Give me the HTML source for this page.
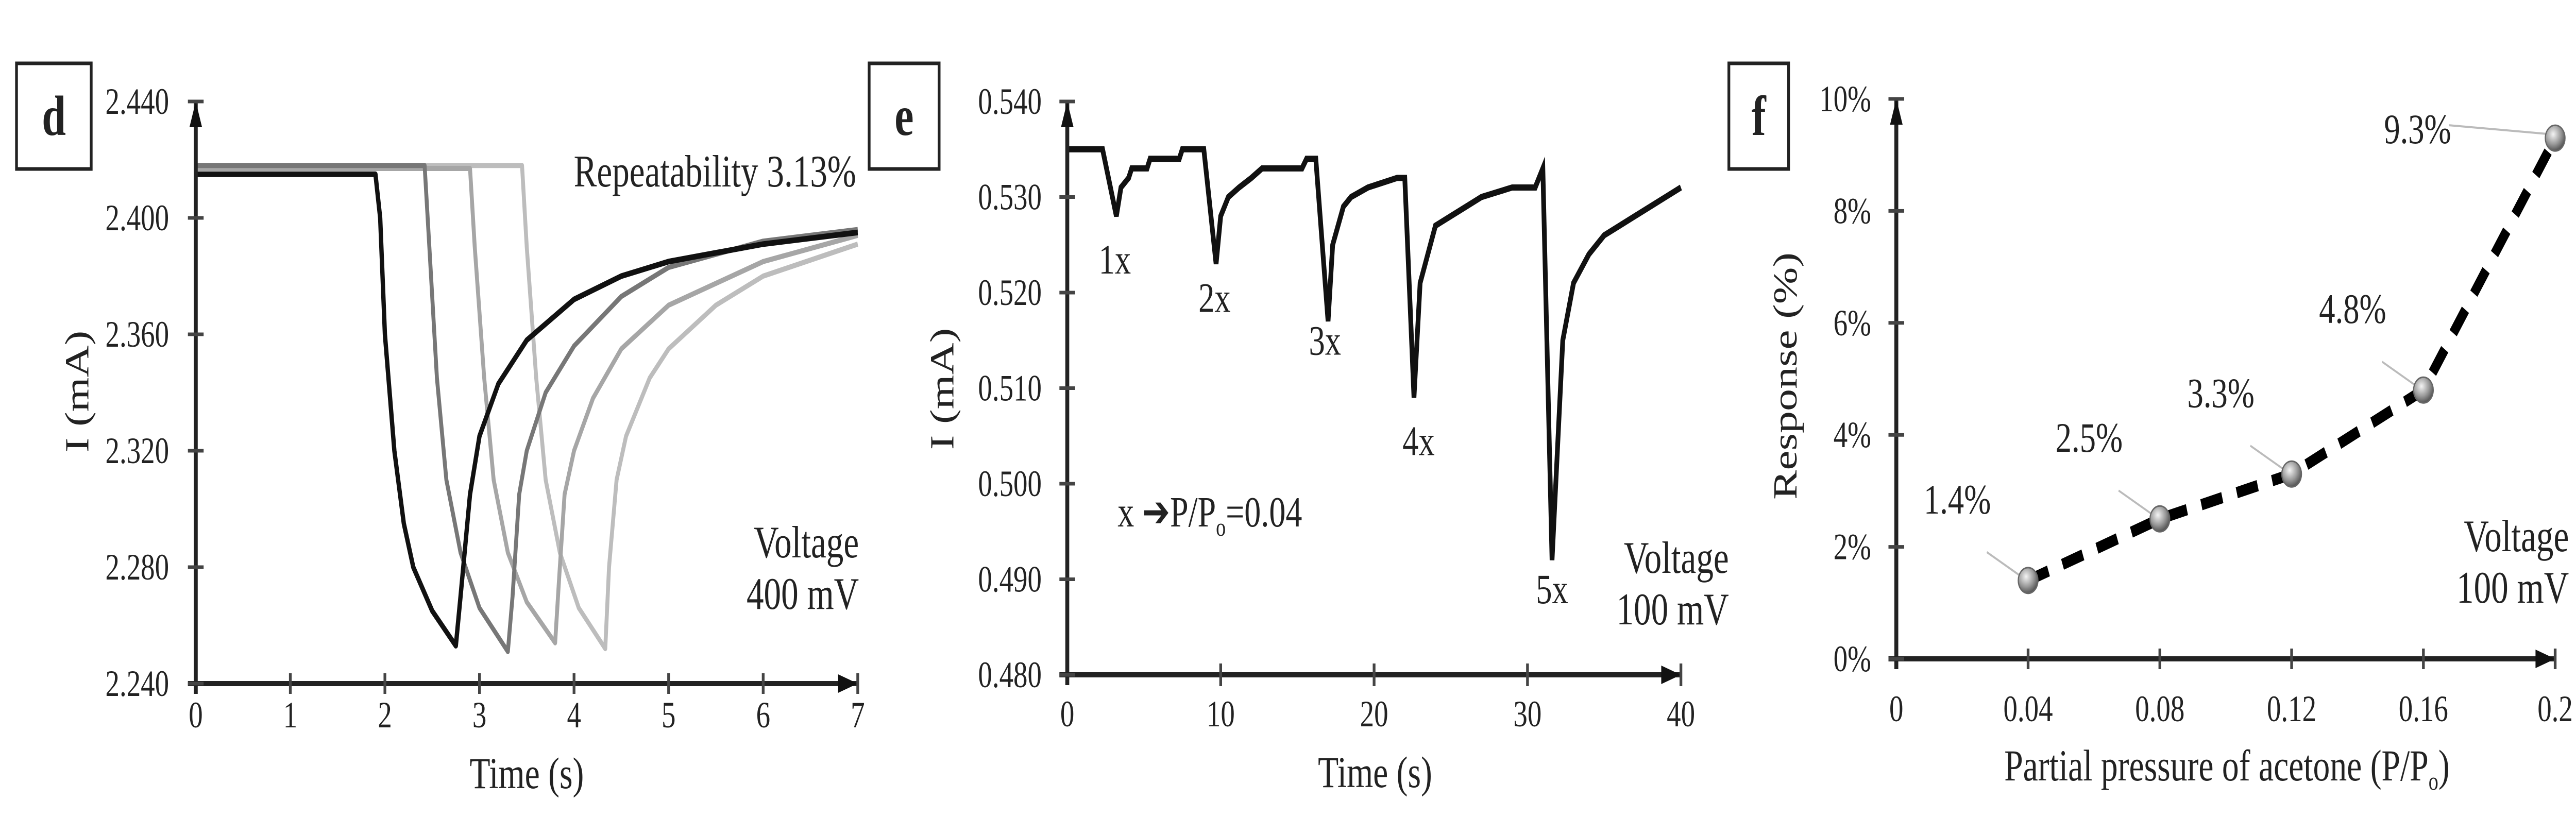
<!DOCTYPE html>
<html><head><meta charset="utf-8"><style>
html,body{margin:0;padding:0;background:#fff;width:100%;height:100%;overflow:hidden;}
svg{display:block;width:100vw;height:100vh;}
text{font-family:"Liberation Serif",serif;fill:#222;}
</style></head><body>
<svg id="fig" viewBox="0 0 6553 1586" preserveAspectRatio="none" xmlns="http://www.w3.org/2000/svg">
<defs>
<radialGradient id="ball" cx="40%" cy="35%" r="65%">
<stop offset="0" stop-color="#f4f4f4"/><stop offset="0.6" stop-color="#9a9a9a"/><stop offset="1" stop-color="#555"/>
</radialGradient>
</defs>
<g id="pd"></g>
<g id="pe"></g>
<g id="pf"></g>
</svg>
<script>
// ---------- Panel d data ----------
const dXTicks = [0,1,2,3,4,5,6,7];
const dYTicks = [2.240,2.280,2.320,2.360,2.400,2.440];
const dColors = ["#111111","#777777","#a6a6a6","#bdbdbd"];
const dT1 = [0,1.9,1.95,2.0,2.1,2.2,2.3,2.5,2.75,2.8,2.9,3.0,3.2,3.5,4.0,4.5,5.0,6.0,7.0];
const dV1 = [2.415,2.415,2.40,2.36,2.32,2.295,2.28,2.265,2.253,2.27,2.305,2.325,2.343,2.358,2.372,2.380,2.385,2.391,2.395];
const dT2 = [0,2.42,2.47,2.55,2.65,2.8,3.0,3.3,3.35,3.42,3.5,3.7,4.0,4.5,5.0,6.0,7.0];
const dV2 = [2.418,2.418,2.39,2.345,2.31,2.285,2.266,2.251,2.27,2.305,2.320,2.340,2.356,2.373,2.383,2.392,2.396];
const dT3 = [0,2.9,2.95,3.05,3.15,3.3,3.5,3.8,3.84,3.9,4.0,4.2,4.5,5.0,6.0,7.0];
const dV3 = [2.417,2.417,2.39,2.345,2.31,2.285,2.268,2.254,2.275,2.305,2.320,2.338,2.355,2.370,2.385,2.394];
const dT4 = [0,3.45,3.5,3.6,3.7,3.85,4.05,4.33,4.37,4.45,4.55,4.8,5.0,5.5,6.0,7.0];
const dV4 = [2.418,2.418,2.39,2.345,2.31,2.285,2.266,2.252,2.28,2.31,2.325,2.345,2.355,2.370,2.380,2.391];
// ---------- Panel e data ----------
const eXTicks = [0,10,20,30,40];
const eYTicks = [0.480,0.490,0.500,0.510,0.520,0.530,0.540];
const eT = [0,2.3,3.2,3.5,4.0,4.2,5.2,5.4,7.3,7.5,8.9,9.7,10.0,10.5,11.2,12.0,12.7,15.3,15.6,16.2,17.0,17.3,18.0,18.5,19.6,21.5,22.0,22.6,23.0,24.0,25.0,26.0,27.0,29.0,30.5,31.0,31.6,32.3,33.0,34.0,35.0,36.0,37.0,38.0,39.0,40.0];
const eV = [0.535,0.535,0.528,0.531,0.532,0.533,0.533,0.534,0.534,0.535,0.535,0.523,0.528,0.530,0.531,0.532,0.533,0.533,0.534,0.534,0.517,0.525,0.529,0.530,0.531,0.532,0.532,0.509,0.521,0.527,0.528,0.529,0.530,0.531,0.531,0.533,0.492,0.515,0.521,0.524,0.526,0.527,0.528,0.529,0.530,0.531];
const ePeakLabels = ["1x","2x","3x","4x","5x"];
const ePeakT = [3.1,9.6,16.8,22.9,31.6];
const ePeakV = [0.5235,0.5195,0.5150,0.5045,0.4890];
// ---------- Panel f data ----------
const fXTicks = [0,0.04,0.08,0.12,0.16,0.2];
const fXTickLabels = ["0","0.04","0.08","0.12","0.16","0.2"];
const fYTicks = [0,2,4,6,8,10];
const fX = [0.04,0.08,0.12,0.16,0.2];
const fY = [1.4,2.5,3.3,4.8,9.3];
const fLabels = ["1.4%","2.5%","3.3%","4.8%","9.3%"];

const NS="http://www.w3.org/2000/svg";
function mk(parent, tag, attrs, txt){
  const e=document.createElementNS(NS,tag);
  for(const k in attrs) e.setAttribute(k,attrs[k]);
  if(txt!==undefined) e.textContent=txt;
  parent.appendChild(e); return e;
}
function lin(d0,d1,r0,r1){return v=>r0+(v-d0)*(r1-r0)/(d1-d0);}

function axes(g, px0, py0, px1, py1){
  const ax=mk(g,'path',{d:`M${px0} ${py0+20}V${py1} M${px0-20} ${py0}H${px1}`,stroke:'#222','stroke-width':10,fill:'none'});
  
  
  const ar1=mk(g,'path',{d:`M${px0-16} ${py1+50}L${px0} ${py1}L${px0+16} ${py1+50}Z`,fill:'#111'});
  
  
  const ar2=mk(g,'path',{d:`M${px1-50} ${py0-18}L${px1} ${py0}L${px1-50} ${py0+18}Z`,fill:'#111'});
  
  
}

// ===== Panel d =====
(function(){
  const g=document.getElementById('pd');
  const X=lin(0,7,498,2182), Y=lin(2.24,2.44,1327,197);
  const box=mk(g,'rect',{x:42,y:123,width:190,height:205,fill:'#fff',stroke:'#222','stroke-width':7});
   
  const bl=mk(g,'text',{x:137,y:262,'font-size':110,'font-weight':'bold','text-anchor':'middle'},'d');
   
  const series=[[dT4,dV4],[dT3,dV3],[dT2,dV2],[dT1,dV1]];
  const cols=[dColors[3],dColors[2],dColors[1],dColors[0]];
  series.forEach((s,i)=>{
    const p=mk(g,'polyline',{points:s[0].map((t,j)=>X(t)+','+Y(s[1][j])).join(' '),fill:'none',stroke:cols[i],'stroke-width':i==3?11:10,'stroke-linejoin':'round'});
     
  });
  axes(g,X(0),Y(2.24),X(7),Y(2.44));
  dYTicks.forEach(v=>{
    const t=mk(g,'line',{x1:X(0)-20,x2:X(0)+20,y1:Y(v),y2:Y(v),stroke:'#444','stroke-width':7});
     
    const l=mk(g,'text',{x:430,y:Y(v)+24,'font-size':72,'text-anchor':'end',fill:'#333'},v.toFixed(3));
     
  });
  dXTicks.forEach(v=>{
    if(v>0){const t=mk(g,'line',{x1:X(v),x2:X(v),y1:Y(2.24)-20,y2:Y(2.24)+20,stroke:'#444','stroke-width':7});
     }
    const l=mk(g,'text',{x:X(v),y:1412,'font-size':72,'text-anchor':'middle',fill:'#333'},String(v));
     
  });
  const xt=mk(g,'text',{x:1340,y:1530,'font-size':86,'text-anchor':'middle'},'Time (s)');
   
  const yt=mk(g,'text',{x:0,y:0,'font-size':86,'text-anchor':'middle',transform:'translate(225,760) rotate(-90)'},'I (mA)');
   
  const rp=mk(g,'text',{x:2178,y:362,'font-size':88,'text-anchor':'end'},'Repeatability 3.13%');
   
  const v1=mk(g,'text',{x:2185,y:1082,'font-size':88,'text-anchor':'end'},'Voltage');
   
  const v2=mk(g,'text',{x:2185,y:1182,'font-size':88,'text-anchor':'end'},'400 mV');
   
})();

// ===== Panel e =====
(function(){
  const g=document.getElementById('pe');
  const X=lin(0,40,2715,4276), Y=lin(0.48,0.54,1310,197);
  const box=mk(g,'rect',{x:2211,y:123,width:178,height:205,fill:'#fff',stroke:'#222','stroke-width':7});
   
  const bl=mk(g,'text',{x:2300,y:262,'font-size':110,'font-weight':'bold','text-anchor':'middle'},'e');
   
  const p=mk(g,'polyline',{points:eT.map((t,j)=>X(t)+','+Y(eV[j])).join(' '),fill:'none',stroke:'#111','stroke-width':12,'stroke-linejoin':'miter'});
   
  axes(g,X(0),Y(0.48),X(40),Y(0.54));
  eYTicks.forEach(v=>{
    const t=mk(g,'line',{x1:X(0)-20,x2:X(0)+20,y1:Y(v),y2:Y(v),stroke:'#444','stroke-width':7});
     
    const l=mk(g,'text',{x:2650,y:Y(v)+24,'font-size':72,'text-anchor':'end',fill:'#333'},v.toFixed(3));
     
  });
  eXTicks.forEach(v=>{
    if(v>0){const t=mk(g,'line',{x1:X(v),x2:X(v),y1:Y(0.48)-22,y2:Y(0.48)+22,stroke:'#444','stroke-width':7});
     }
    const l=mk(g,'text',{x:X(v),y:1410,'font-size':72,'text-anchor':'middle',fill:'#333'},String(v));
     
  });
  ePeakLabels.forEach((s,i)=>{
    const l=mk(g,'text',{x:X(ePeakT[i]),y:Y(ePeakV[i])+28,'font-size':82,'text-anchor':'middle'},s);
     
  });
  const n=mk(g,'text',{x:2843,y:1022,'font-size':84},'x ');
   
  mk(n,'tspan',{'font-family':'DejaVu Sans','font-weight':'bold'},'➔');
  mk(n,'tspan',{},'P/P');
  mk(n,'tspan',{'font-size':50,dy:18},'o');
  mk(n,'tspan',{dy:-18},'=0.04');
  const xt=mk(g,'text',{x:3498,y:1528,'font-size':86,'text-anchor':'middle'},'Time (s)');
   
  const yt=mk(g,'text',{x:0,y:0,'font-size':86,'text-anchor':'middle',transform:'translate(2425,755) rotate(-90)'},'I (mA)');
   
  const v1=mk(g,'text',{x:4398,y:1112,'font-size':88,'text-anchor':'end'},'Voltage');
   
  const v2=mk(g,'text',{x:4398,y:1212,'font-size':88,'text-anchor':'end'},'100 mV');
   
})();

// ===== Panel f =====
(function(){
  const g=document.getElementById('pf');
  const X=lin(0,0.2,4824,6500), Y=lin(0,10,1279,192);
  const box=mk(g,'rect',{x:4398,y:123,width:152,height:205,fill:'#fff',stroke:'#222','stroke-width':7});
   
  const bl=mk(g,'text',{x:4474,y:262,'font-size':110,'font-weight':'bold','text-anchor':'middle'},'f');
   
  axes(g,X(0),Y(0),X(0.2),Y(10));
  fYTicks.forEach(v=>{
    const t=mk(g,'line',{x1:X(0)-20,x2:X(0)+20,y1:Y(v),y2:Y(v),stroke:'#444','stroke-width':7});
     
    const l=mk(g,'text',{x:4760,y:Y(v)+24,'font-size':72,'text-anchor':'end',fill:'#333'},v+'%');
     
  });
  fXTicks.forEach((v,i)=>{
    if(v>0){const t=mk(g,'line',{x1:X(v),x2:X(v),y1:Y(0)-20,y2:Y(0)+20,stroke:'#444','stroke-width':7});
     }
    const l=mk(g,'text',{x:X(v),y:1400,'font-size':72,'text-anchor':'middle',fill:'#333'},fXTickLabels[i]);
     
  });
  const p=mk(g,'polyline',{points:fX.map((x,j)=>X(x)+','+Y(fY[j])).join(' '),fill:'none',stroke:'#000','stroke-width':22,'stroke-dasharray':'55 38'});
   
  fX.forEach((x,j)=>{
    const lx=X(x)-(j==4?320:120), ly=Y(fY[j])-(j==4?10:150);
    const ld=mk(g,'line',{x1:X(x)-18,y1:Y(fY[j])-8,x2:(j==4?lx+50:X(x)-105),y2:(j==4?Y(fY[j])-25:Y(fY[j])-55),stroke:'#bbb','stroke-width':4});
     
    const c=mk(g,'circle',{cx:X(x),cy:Y(fY[j]),r:25,fill:'url(#ball)',stroke:'#666','stroke-width':3});
     
    const t=mk(g,'text',{x:j==4?lx-30:lx-60,y:ly+20,'font-size':82,'text-anchor':'middle',fill:'#333'},fLabels[j]);
     
  });
  const xt=mk(g,'text',{x:5665,y:1515,'font-size':86,'text-anchor':'middle'},'Partial pressure of acetone (P/P');
   
  mk(xt,'tspan',{'font-size':50,dy:18},'o');
  mk(xt,'tspan',{dy:-18},')');
  const yt=mk(g,'text',{x:0,y:0,'font-size':86,'text-anchor':'middle',transform:'translate(4570,730) rotate(-90)'},'Response (%)');
   
  const v1=mk(g,'text',{x:6535,y:1070,'font-size':88,'text-anchor':'end'},'Voltage');
   
  const v2=mk(g,'text',{x:6535,y:1170,'font-size':88,'text-anchor':'end'},'100 mV');
   
})();
</script>
</body></html>
